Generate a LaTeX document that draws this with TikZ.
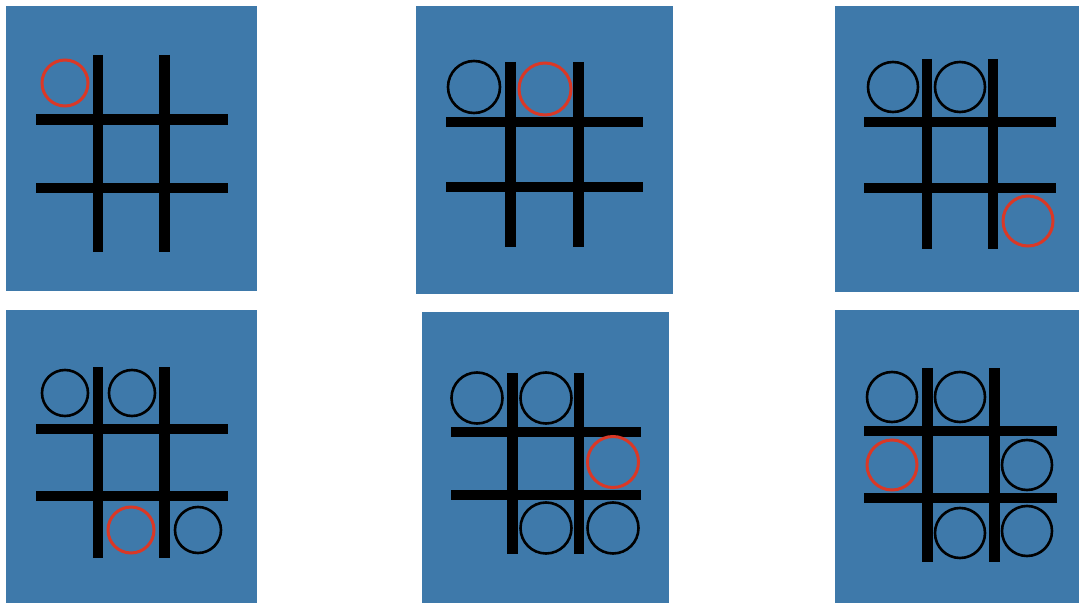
\documentclass[tikz,border=0pt]{standalone}
\usepackage{xcolor}
\usetikzlibrary{positioning}
\definecolor{tileblue}{RGB}{62,121,170}
\definecolor{moveRed}{RGB}{218,56,38}

\begin{document}
\begin{tikzpicture}[x=1pt, y=-1pt,
    tile/.style={fill=tileblue},
    bar/.style={line width=10.5pt, black},
    ring/.style={circle, draw=black, line width=2.6pt, inner sep=0pt},
    lastmove/.style={ring, draw=moveRed, line width=3pt}]
    \useasboundingbox (0,0) rectangle (1079,604);

    % board 1
    \fill[tile] (6,6) rectangle (257,291);
    \foreach \x in {98,164.5} \draw[bar] (\x,55) -- (\x,252);
    \foreach \y in {119.5,188} \draw[bar] (36,\y) -- (228,\y);
    \node[lastmove, minimum size=46pt] (b1red) at (65,83) {};

    % board 2
    \fill[tile] (416,6) rectangle (673,294);
    \foreach \x in {510.5,578.5} \draw[bar] (\x,62) -- (\x,247);
    \foreach \y in {122,187} \draw[bar] (446,\y) -- (643,\y);
    \node[ring, minimum size=52pt] (b2a) at (474,87) {};
    \node[lastmove, minimum size=52pt] (b2red) at (545,89) {};

    % board 3
    \fill[tile] (835,6) rectangle (1079,292);
    \foreach \x in {927,993} \draw[bar] (\x,59) -- (\x,249);
    \foreach \y in {122,188} \draw[bar] (864,\y) -- (1056,\y);
    \node[ring, minimum size=50pt] (b3a) at (893,87) {};
    \node[ring, minimum size=50pt] (b3b) at (960,87) {};
    \node[lastmove, minimum size=50pt] (b3red) at (1028,221) {};

    % board 4
    \fill[tile] (6,310) rectangle (257,603);
    \foreach \x in {98,164.5} \draw[bar] (\x,367) -- (\x,558);
    \foreach \y in {429,496} \draw[bar] (36,\y) -- (228,\y);
    \node[ring, minimum size=46pt] (b4a) at (65,393) {};
    \node[ring, minimum size=46pt] (b4b) at (132,393) {};
    \node[ring, minimum size=46pt] (b4c) at (198,530) {};
    \node[lastmove, minimum size=46pt] (b4red) at (131,530) {};

    % board 5
    \fill[tile] (422,312) rectangle (669,603);
    \foreach \x in {512.5,579} \draw[bar] (\x,373) -- (\x,554);
    \foreach \y in {432,495} \draw[bar] (451,\y) -- (641,\y);
    \node[ring, minimum size=51pt] (b5a) at (477,398) {};
    \node[ring, minimum size=51pt] (b5b) at (546,398) {};
    \node[ring, minimum size=51pt] (b5c) at (546,528) {};
    \node[ring, minimum size=51pt] (b5d) at (613,528) {};
    \node[lastmove, minimum size=51pt] (b5red) at (613,462) {};

    % board 6
    \fill[tile] (835,310) rectangle (1079,603);
    \foreach \x in {927.5,994.5} \draw[bar] (\x,368) -- (\x,562);
    \foreach \y in {431,498} \draw[bar] (864,\y) -- (1057,\y);
    \node[ring, minimum size=50pt] (b6a) at (892,397) {};
    \node[ring, minimum size=50pt] (b6b) at (960,397) {};
    \node[ring, minimum size=50pt] (b6c) at (1027,465) {};
    \node[ring, minimum size=50pt] (b6d) at (960,533) {};
    \node[ring, minimum size=50pt] (b6e) at (1027,531) {};
    \node[lastmove, minimum size=50pt] (b6red) at (892,465) {};
\end{tikzpicture}
\end{document}
